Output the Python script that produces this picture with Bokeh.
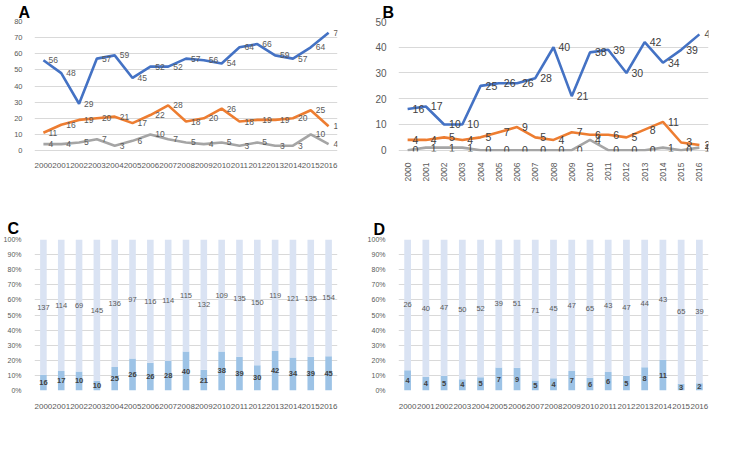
from bokeh.plotting import figure
from bokeh.models import (ColumnDataSource, Legend, LegendItem,
                          FactorRange, Range1d, FixedTicker)
from bokeh.layouts import gridplot
from bokeh.core.properties import value
from bokeh.embed import file_html
from bokeh.resources import INLINE

years = [str(y) for y in range(2000, 2017)]

a_hbl = [56, 48, 29, 57, 59, 45, 52, 52, 57, 56, 54, 64, 66, 59, 57, 64, 73]
a_hcc = [11, 16, 19, 20, 21, 17, 22, 28, 18, 20, 26, 18, 19, 19, 20, 25, 15]
a_emb = [4, 4, 5, 7, 3, 6, 10, 7, 5, 4, 5, 3, 5, 3, 3, 10, 4]

b_hbl = [16, 17, 10, 10, 25, 26, 26, 28, 40, 21, 38, 39, 30, 42, 34, 39, 45]
b_hcc = [4, 4, 5, 4, 5, 7, 9, 5, 4, 7, 6, 6, 5, 8, 11, 3, 2]
b_emb = [0, 1, 1, 1, 0, 0, 0, 0, 0, 0, 4, 0, 0, 0, 1, 0, 1]

c_lt = [16, 17, 10, 10, 25, 26, 26, 28, 40, 21, 38, 39, 30, 42, 34, 39, 45]
c_non = [137, 114, 69, 145, 136, 97, 116, 114, 115, 132, 109, 135, 150, 119, 121, 135, 154]

d_lt = [4, 4, 5, 4, 5, 7, 9, 5, 4, 7, 6, 6, 5, 8, 11, 3, 2]
d_non = [26, 40, 47, 50, 52, 39, 51, 71, 45, 47, 65, 43, 47, 44, 43, 65, 39]

a_ticks = [0, 10, 20, 30, 40, 50, 60, 70, 80]
b_ticks = [0, 10, 20, 30, 40, 50]
pct_ticks = [0, 10, 20, 30, 40, 50, 60, 70, 80, 90, 100]

series_names = ["HBL", "HCC", "EMB"]
series_colors = ["#4472C4", "#ED7D31", "#A5A5A5"]
bar_names = ["LT cases", "Estimated non-LT cases"]
bar_colors = ["#9DC3E6", "#DAE3F3"]
panel_letters = ["A", "B", "C", "D"]

FONT = value("Liberation Sans")


def base_fig(letter, w, h, left, right, top, bottom, yr, t_off, t_stand):
    p = figure(width=w, height=h, x_range=FactorRange(*years), y_range=yr,
               output_backend="svg", toolbar_location=None, title=letter,
               min_border_left=left, min_border_right=right,
               min_border_top=top, min_border_bottom=bottom)
    p.title.text_font = "Liberation Sans"
    p.title.text_font_size = "16px"
    p.title.text_font_style = "bold"
    p.title.text_color = "#000000"
    p.title.align = "left"
    p.title.offset = t_off
    p.title.standoff = t_stand
    p.outline_line_color = None
    p.xgrid.grid_line_color = None
    p.ygrid.grid_line_color = "#D9D9D9"
    for ax in (p.xaxis[0], p.yaxis[0]):
        ax.axis_line_color = None
        ax.major_tick_line_color = None
        ax.minor_tick_line_color = None
        ax.major_label_text_color = "#595959"
        ax.major_label_text_font = "Liberation Sans"
    p.x_range.range_padding = 0
    return p


def line_panel(letter, w, h, left, right, top, bottom, series, ticks, ymin,
               tick_fs, xfs, lab_fs, lab_col, rotate, leg_fs, t_off, t_stand,
               leg_loc):
    p = base_fig(letter, w, h, left, right, top, bottom,
                 Range1d(ymin, ticks[-1]), t_off, t_stand)
    p.yaxis[0].ticker = FixedTicker(ticks=ticks)
    p.yaxis[0].major_label_text_font_size = tick_fs
    p.yaxis[0].major_label_standoff = 6
    p.xaxis[0].major_label_text_font_size = xfs
    p.xaxis[0].major_label_standoff = 5
    if rotate:
        p.xaxis[0].major_label_orientation = 1.5708
    items = []
    for name, col, vals in zip(series_names, series_colors, series):
        src = ColumnDataSource(dict(x=years, y=vals))
        r = p.line("x", "y", source=src, line_color=col, line_width=2.6)
        items.append(LegendItem(label=name, renderers=[r]))
    for vals in series:
        src = ColumnDataSource(dict(x=years, y=vals, t=[str(v) for v in vals]))
        p.text("x", "y", text="t", source=src, x_offset=5, text_align="left",
               text_baseline="middle", text_font=FONT, text_font_size=lab_fs,
               text_color=lab_col)
    leg = Legend(items=items, orientation="horizontal", location=leg_loc,
                 label_text_font="Liberation Sans", label_text_font_size=leg_fs,
                 label_text_font_style="bold", label_text_color="#595959",
                 glyph_width=26, glyph_height=12, padding=1, margin=0,
                 spacing=14, label_standoff=4, border_line_color=None,
                 background_fill_alpha=0)
    p.add_layout(leg)
    return p


def bar_panel(letter, w, h, left, right, top, bottom, lt, non, t_off, t_stand,
              leg_loc):
    p = base_fig(letter, w, h, left, right, top, bottom, Range1d(0, 100),
                 t_off, t_stand)
    p.yaxis[0].ticker = FixedTicker(ticks=pct_ticks)
    p.yaxis[0].major_label_overrides = {t: f"{t}%" for t in pct_ticks}
    p.yaxis[0].major_label_text_font_size = "7px"
    p.yaxis[0].major_label_standoff = 7
    p.xaxis[0].major_label_text_font_size = "8px"
    p.xaxis[0].major_label_standoff = 7
    tot = [a + b for a, b in zip(lt, non)]
    lt_p = [100.0 * a / t for a, t in zip(lt, tot)]
    non_p = [100.0 * b / t for b, t in zip(non, tot)]
    src = ColumnDataSource(dict(
        x=years, lt=lt_p, non=non_p,
        lt_mid=[v / 2 for v in lt_p],
        non_mid=[a + b / 2 for a, b in zip(lt_p, non_p)],
        lt_t=[str(v) for v in lt], non_t=[str(v) for v in non]))
    rs = p.vbar_stack(["lt", "non"], x="x", width=0.37, color=bar_colors,
                      source=src, line_color=None)
    p.text("x", "lt_mid", text="lt_t", source=src, text_align="center",
           text_baseline="middle", text_font=FONT, text_font_size="7.5px",
           text_font_style="bold", text_color="#404040")
    p.text("x", "non_mid", text="non_t", source=src, text_align="center",
           text_baseline="middle", text_font=FONT, text_font_size="7.5px",
           text_color="#595959")
    items = [LegendItem(label=n, renderers=[r]) for n, r in zip(bar_names, rs)]
    leg = Legend(items=items, orientation="horizontal", location=leg_loc,
                 label_text_font="Liberation Sans", label_text_font_size="7.5px",
                 label_text_color="#595959", glyph_width=6, glyph_height=6,
                 padding=1, margin=0, spacing=14, label_standoff=3,
                 border_line_color=None, background_fill_alpha=0)
    p.add_layout(leg)
    return p


pA = line_panel(panel_letters[0], 364, 214, 21, 25, 21, 48,
                [a_hbl, a_hcc, a_emb], a_ticks, -0.6,
                "7.5px", "8px", "8.5px", "#595959", False, "9px", -16, 2,
                (72, -32))
pB = line_panel(panel_letters[1], 350, 214, 27, 5, 21, 63,
                [b_hbl, b_hcc, b_emb], b_ticks, -0.5,
                "10px", "8.5px", "10.5px", "#404040", True, "9px", -16, 2,
                (66, -54))
pC = bar_panel(panel_letters[2], 364, 219, 31, 27, 25, 43, c_lt, c_non, -27, 5,
               (71, -36))
pD = bar_panel(panel_letters[3], 350, 219, 33, 6, 24, 43, d_lt, d_non, -25, 4,
               (73, -36))

grid = gridplot([[pA, pB], [pC, pD]], toolbar_location=None)

open("out.html", "w").write(file_html(grid, INLINE))
